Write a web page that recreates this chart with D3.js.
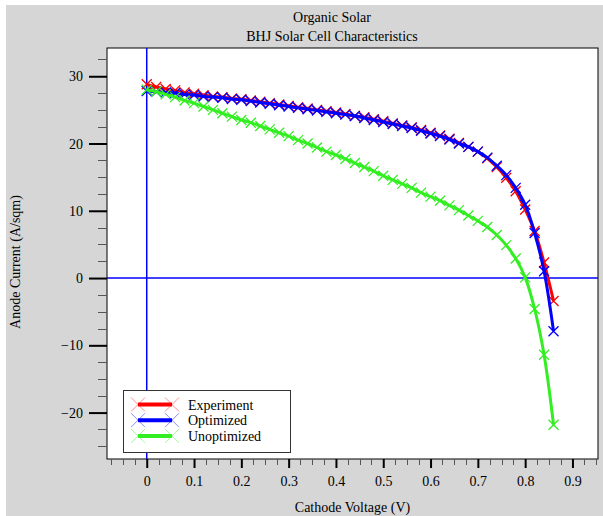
<!DOCTYPE html>
<html>
<head>
<meta charset="utf-8">
<script src="https://cdn.jsdelivr.net/npm/d3@7"></script>
<style>
  html, body { margin: 0; padding: 0; background: #fff; }
  svg text { font-family: "Liberation Serif", "Times New Roman", Times, serif; font-size: 14px; fill: #000; }
  .frame { fill: #fff; stroke: #000; stroke-width: 1px; }
  .major { stroke: #000; stroke-width: 2px; }
  .minor { stroke: #555; stroke-width: 1px; }
  .zero { stroke: #0000ff; stroke-width: 1.5px; }
  path.curve { fill: none; stroke-width: 3px; }
</style>
</head>
<body>
<svg id="chart" width="603" height="516"></svg>
<script>
// cathode voltage (V), sweep step used by the simulation
var voltage = [0, 0.02, 0.04, 0.06, 0.08, 0.10, 0.12, 0.14, 0.16, 0.18,
  0.20, 0.22, 0.24, 0.26, 0.28, 0.30, 0.32, 0.34, 0.36, 0.38,
  0.40, 0.42, 0.44, 0.46, 0.48, 0.50, 0.52, 0.54, 0.56, 0.58,
  0.60, 0.62, 0.64, 0.66, 0.68, 0.70, 0.72, 0.74, 0.76, 0.78,
  0.80, 0.82, 0.84, 0.86];

// anode current (A/sqm)
var experiment = [28.8, 28.4, 28.1, 27.9, 27.6, 27.4, 27.2, 27.0, 26.9, 26.7,
  26.6, 26.4, 26.2, 26.0, 25.8, 25.6, 25.4, 25.2, 25.0, 24.8,
  24.6, 24.4, 24.1, 23.9, 23.6, 23.3, 23.0, 22.7, 22.4, 22.0,
  21.6, 21.2, 20.7, 20.1, 19.5, 18.8, 17.8, 16.5, 14.9, 12.9,
  10.2, 7.0, 2.3, -3.4];

var optimized = [27.8, 27.7, 27.6, 27.5, 27.3, 27.2, 27.0, 26.9, 26.8, 26.6,
  26.5, 26.3, 26.1, 25.9, 25.7, 25.5, 25.3, 25.1, 24.9, 24.7,
  24.5, 24.3, 24.1, 23.8, 23.5, 23.2, 22.9, 22.6, 22.3, 21.9,
  21.5, 21.1, 20.6, 20.0, 19.5, 18.8, 17.9, 16.7, 15.3, 13.4,
  10.9, 6.7, 1.0, -7.9];

var unoptimized = [28.0, 27.7, 27.3, 26.9, 26.4, 26.0, 25.5, 25.0, 24.5, 24.0,
  23.5, 23.1, 22.6, 22.1, 21.6, 21.1, 20.5, 20.0, 19.4, 18.8,
  18.3, 17.7, 17.1, 16.5, 15.9, 15.2, 14.6, 14.0, 13.4, 12.7,
  12.1, 11.5, 10.8, 10.1, 9.3, 8.5, 7.6, 6.4, 4.9, 2.9,
  0.1, -4.6, -11.4, -21.8];

var seriesNames = ["Experiment", "Optimized", "Unoptimized"];
var seriesColors = ["#ff0000", "#0000ff", "#33ee22"];
var seriesValues = [experiment, optimized, unoptimized];

var xTicks = [0, 0.1, 0.2, 0.3, 0.4, 0.5, 0.6, 0.7, 0.8, 0.9];
var yTicks = [-20, -10, 0, 10, 20, 30];

var margin = {top: 48, right: 5, bottom: 57, left: 107};
var W = 603, H = 516;
var width = W - margin.left - margin.right;
var height = H - margin.top - margin.bottom;
var FONT = "'Liberation Serif', 'Times New Roman', Times, serif";

var x = d3.scaleLinear().domain([-0.084, 0.954]).range([0, width]);
var y = d3.scaleLinear().domain([-26.9, 34.2]).range([height, 0]);

var svg = d3.select("#chart").attr("font-family", FONT);

// grey panel
svg.append("rect")
  .attr("x", 6).attr("y", 5)
  .attr("width", W - 6).attr("height", H - 5)
  .attr("fill", "#d6d6d6");

// titles
svg.append("text")
  .attr("x", 332).attr("y", 22)
  .attr("text-anchor", "middle")
  .text("Organic Solar");
svg.append("text")
  .attr("x", 332).attr("y", 41)
  .attr("text-anchor", "middle")
  .text("BHJ Solar Cell Characteristics");

var g = svg.append("g")
  .attr("transform", "translate(" + margin.left + "," + margin.top + ")");

g.append("rect")
  .attr("class", "frame")
  .attr("x", 0).attr("y", 0)
  .attr("width", width).attr("height", height);

// minor ticks
var xMinor = d3.range(-0.075, 0.951, 0.025).filter(function(v) {
  return Math.abs(Math.round(v * 10) - v * 10) > 1e-6;
});
var yMinor = d3.range(-25, 33, 2.5).filter(function(v) { return v % 10 !== 0; });

g.selectAll("line.xminor").data(xMinor).enter().append("line")
  .attr("class", "minor")
  .attr("x1", function(d) { return Math.round(x(d)) + 0.5; })
  .attr("x2", function(d) { return Math.round(x(d)) + 0.5; })
  .attr("y1", height).attr("y2", height + 6);

g.selectAll("line.yminor").data(yMinor).enter().append("line")
  .attr("class", "minor")
  .attr("y1", function(d) { return Math.round(y(d)) + 0.5; })
  .attr("y2", function(d) { return Math.round(y(d)) + 0.5; })
  .attr("x1", -9).attr("x2", 0);

// major ticks via axes
var xAxis = d3.axisBottom(x).tickValues(xTicks).tickSize(9).tickPadding(8)
  .tickFormat(function(d) { return d === 0 ? "0" : d3.format(".1f")(d); });
var yAxis = d3.axisLeft(y).tickValues(yTicks).tickSize(18).tickPadding(6)
  .tickFormat(d3.format("d"));

var gx = g.append("g").attr("transform", "translate(0," + height + ")").call(xAxis);
var gy = g.append("g").call(yAxis);
[gx, gy].forEach(function(a) {
  a.attr("font-family", FONT).attr("font-size", 14);
  a.select(".domain").remove();
  a.selectAll(".tick line").attr("class", "major");
  a.selectAll(".tick text").attr("fill", "#000");
});

// zero lines
g.append("line").attr("class", "zero")
  .attr("x1", 0).attr("x2", width)
  .attr("y1", y(0)).attr("y2", y(0));
g.append("line").attr("class", "zero")
  .attr("x1", x(0)).attr("x2", x(0))
  .attr("y1", 0).attr("y2", height);

// axis labels
svg.append("text")
  .attr("x", margin.left + width / 2).attr("y", 512)
  .attr("text-anchor", "middle")
  .text("Cathode Voltage (V)");
svg.append("text")
  .attr("transform", "translate(20,262) rotate(-90)")
  .attr("text-anchor", "middle")
  .text("Anode Current (A/sqm)");

// curves
var line = d3.line()
  .x(function(d) { return x(d[0]); })
  .y(function(d) { return y(d[1]); })
  .curve(d3.curveCatmullRom.alpha(0.5));

function cross(s) {
  return "M" + (-s) + "," + (-s) + "L" + s + "," + s + "M" + (-s) + "," + s + "L" + s + "," + (-s);
}

var plot = g.append("g");
seriesValues.forEach(function(vals, i) {
  var pts = voltage.map(function(v, j) { return [v, vals[j]]; });
  plot.append("path")
    .attr("class", "curve")
    .attr("stroke", seriesColors[i])
    .attr("d", line(pts));
  plot.selectAll("path.m" + i).data(pts).enter().append("path")
    .attr("class", "m" + i)
    .attr("transform", function(d) { return "translate(" + x(d[0]) + "," + y(d[1]) + ")"; })
    .attr("d", cross(5))
    .attr("fill", "none")
    .attr("stroke", seriesColors[i])
    .attr("stroke-width", 1.3);
});

// legend
var legend = svg.append("g");
legend.append("rect")
  .attr("x", 123.5).attr("y", 390.5)
  .attr("width", 167).attr("height", 62)
  .attr("fill", "#fff").attr("stroke", "#333");

seriesNames.forEach(function(name, i) {
  var ly = 404.5 + i * 15.7;
  legend.append("line")
    .attr("x1", 138).attr("x2", 172)
    .attr("y1", ly).attr("y2", ly)
    .attr("stroke", seriesColors[i]).attr("stroke-width", 4);
  [138, 172].forEach(function(lx) {
    legend.append("path")
      .attr("transform", "translate(" + lx + "," + ly + ")")
      .attr("d", cross(7))
      .attr("fill", "none")
      .attr("stroke", seriesColors[i])
      .attr("stroke-opacity", 0.45)
      .attr("stroke-width", 1);
  });
  legend.append("text")
    .attr("x", 188).attr("y", ly + 5)
    .text(name);
});
</script>
</body>
</html>
